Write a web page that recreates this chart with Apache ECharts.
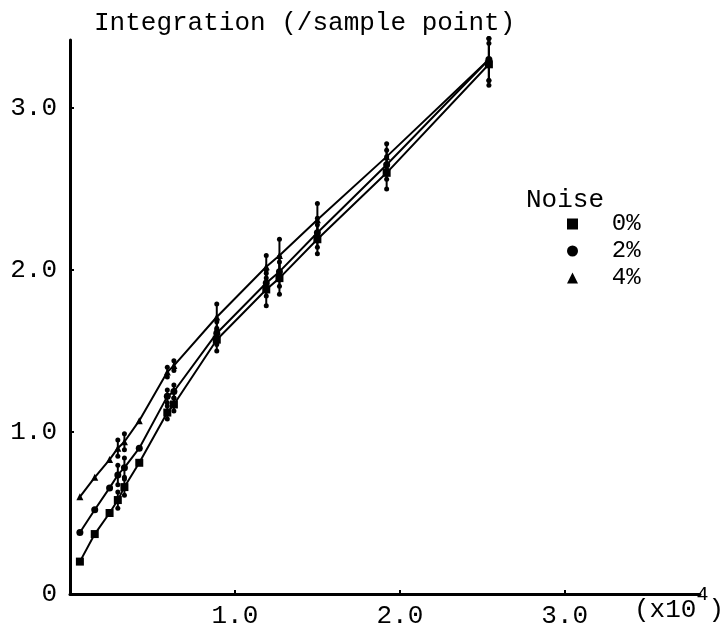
<!DOCTYPE html>
<html>
<head>
<meta charset="utf-8">
<script src="https://cdn.jsdelivr.net/npm/echarts@6/dist/echarts.min.js"></script>
<style>
  html, body { margin: 0; padding: 0; background: #fff; }
  #chart { width: 727px; height: 631px; }
</style>
</head>
<body>
<div id="chart"></div>
<script>
// sample counts (x10^4)
var xValues = [0.06, 0.15, 0.24, 0.29, 0.33, 0.42, 0.59, 0.63, 0.89, 1.19, 1.27, 1.50, 1.92, 2.54];

// integration per sample point, one list per noise level
var noise0 = [0.20, 0.37, 0.50, 0.58, 0.66, 0.81, 1.12, 1.17, 1.57, 1.88, 1.95, 2.19, 2.60, 3.27];
var noise2 = [0.38, 0.52, 0.655, 0.735, 0.78, 0.90, 1.22, 1.25, 1.61, 1.92, 1.99, 2.23, 2.65, 3.30];
var noise4 = [0.60, 0.72, 0.83, 0.90, 0.94, 1.07, 1.37, 1.41, 1.71, 2.02, 2.09, 2.31, 2.70, 3.30];

// half length of the error bars
var err0 = [0, 0, 0, 0.05, 0.05, 0, 0.04, 0.04, 0.07, 0.10, 0.10, 0.09, 0.10, 0.13];
var err2 = [0, 0, 0, 0.06, 0.06, 0, 0.04, 0.04, 0.07, 0.08, 0.09, 0.09, 0.09, 0.13];
var err4 = [0, 0, 0, 0.05, 0.05, 0, 0.03, 0.03, 0.08, 0.07, 0.10, 0.10, 0.08, 0.13];

var seriesNames = ["0%", "2%", "4%"];
var seriesSymbols = ["rect", "circle", "triangle"];

var FONT = "Liberation Mono";

function pairs(ys) {
  return xValues.map(function (x, i) { return [x, ys[i]]; });
}
function triples(ys, es) {
  return xValues.map(function (x, i) { return [x, ys[i], es[i]]; });
}

// vertical bar with a dot at each end
function errorBar(params, api) {
  var x = api.value(0), y = api.value(1), e = api.value(2);
  if (!e) return null;
  var hi = api.coord([x, y + e]);
  var lo = api.coord([x, y - e]);
  return {
    type: "group",
    children: [
      { type: "line", shape: { x1: hi[0], y1: hi[1], x2: lo[0], y2: lo[1] }, style: { stroke: "#000", lineWidth: 2 } },
      { type: "circle", shape: { cx: hi[0], cy: hi[1], r: 2.5 }, style: { fill: "#000" } },
      { type: "circle", shape: { cx: lo[0], cy: lo[1], r: 2.5 }, style: { fill: "#000" } },
    ],
  };
}

var values = [noise0, noise2, noise4];
var errors = [err0, err2, err4];
var series = [];
seriesNames.forEach(function (name, k) {
  series.push({
    name: name,
    type: "line",
    data: pairs(values[k]),
    symbol: seriesSymbols[k],
    symbolSize: k === 0 ? 8 : 7,
    lineStyle: { color: "#000", width: 2 },
    itemStyle: { color: "#000" },
    animation: false,
  });
  series.push({
    name: name,
    type: "custom",
    renderItem: errorBar,
    data: triples(values[k], errors[k]),
    animation: false,
  });
});

var myChart = echarts.init(document.getElementById("chart"));
myChart.setOption({
  backgroundColor: "#fff",
  textStyle: { fontFamily: FONT, color: "#000" },
  title: [
    {
      text: "Integration (/sample point)",
      left: 89,
      top: 5,
      textStyle: { fontFamily: FONT, fontSize: 26, fontWeight: "normal", color: "#000" },
    },
    {
      text: "Noise",
      left: 521,
      top: 182,
      textStyle: { fontFamily: FONT, fontSize: 26, fontWeight: "normal", color: "#000" },
    },
  ],
  legend: {
    orient: "vertical",
    left: 562,
    top: 207,
    itemWidth: 11,
    itemHeight: 11,
    itemGap: 3,
    data: seriesNames.map(function (n, k) { return { name: n, icon: seriesSymbols[k] }; }),
    formatter: function (n) { return "  " + n; },
    textStyle: { fontFamily: FONT, fontSize: 24, color: "#000" },
    itemStyle: { color: "#000" },
  },
  grid: { left: 70, right: 27, top: 40, bottom: 37, outerBoundsMode: "none" },
  xAxis: {
    type: "value",
    min: 0,
    max: 3.82,
    interval: 1,
    splitLine: { show: false },
    axisLine: { lineStyle: { color: "#000", width: 3 } },
    axisTick: { inside: true, length: 4, lineStyle: { color: "#000", width: 2 } },
    axisLabel: {
      margin: 9,
      fontFamily: FONT,
      fontSize: 26,
      color: "#000",
      showMaxLabel: false,
      formatter: function (v) { return v === 0 || v % 1 !== 0 ? "" : v.toFixed(1); },
    },
    name: "{b|(x10}{s|4}{b|)}",
    nameLocation: "end",
    nameGap: -66,
    nameTextStyle: {
      verticalAlign: "top",
      align: "left",
      padding: [-9, 0, 0, 0],
      rich: {
        b: { fontFamily: FONT, fontSize: 26, color: "#000", verticalAlign: "bottom", lineHeight: 38 },
        s: { fontFamily: FONT, fontSize: 20, color: "#000", verticalAlign: "top", lineHeight: 20 },
      },
    },
  },
  yAxis: {
    type: "value",
    min: 0,
    max: 3.42,
    interval: 1,
    splitLine: { show: false },
    axisLine: { lineStyle: { color: "#000", width: 3 } },
    axisTick: { inside: true, length: 4, lineStyle: { color: "#000", width: 2 } },
    axisLabel: {
      margin: 13,
      fontFamily: FONT,
      fontSize: 26,
      color: "#000",
      showMaxLabel: false,
      formatter: function (v) { return v === 0 ? "0" : v.toFixed(1); },
    },
  },
  series: series,
});
</script>
</body>
</html>
